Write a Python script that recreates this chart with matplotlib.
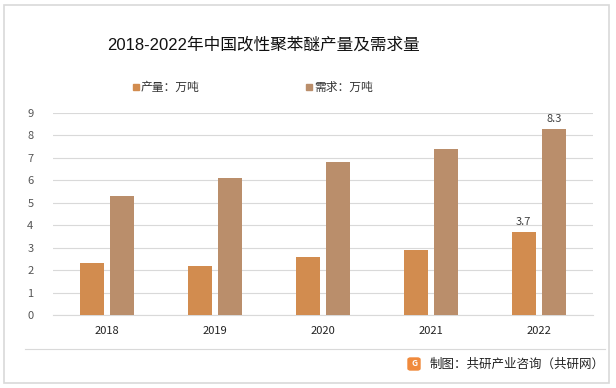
import matplotlib
matplotlib.use("Agg")
import matplotlib.pyplot as plt
from matplotlib.patches import Rectangle, FancyBboxPatch
import numpy as np

plt.rcParams['font.family'] = ['Noto Sans CJK SC', 'DejaVu Sans']

years = ["2018", "2019", "2020", "2021", "2022"]
production = [2.3, 2.2, 2.6, 2.9, 3.7]
demand = [5.3, 6.1, 6.8, 7.4, 8.3]
series_names = ["产量：万吨", "需求：万吨"]
title = "2018-2022年中国改性聚苯醚产量及需求量"
footer = "制图：共研产业咨询（共研网）"

c_prod = "#D28C4F"
c_dem = "#BA8E6B"

W, H = 616, 388
fig = plt.figure(figsize=(W/100, H/100), dpi=100)

def fx(px): return px / W
def fy(py): return 1 - py / H

# outer border
fig.patches.append(Rectangle((fx(4), fy(383)), fx(605), (383-5)/H, transform=fig.transFigure,
                             fill=False, edgecolor="#D9D9D9", linewidth=1.2))

ax = fig.add_axes([fx(53), fy(315), fx(593) - fx(53), (315-113)/H])
x = np.arange(len(years))
bw = 0.222
off = 0.143
ax.bar(x - off, production, bw, color=c_prod, label=series_names[0], zorder=3)
ax.bar(x + off, demand, bw, color=c_dem, label=series_names[1], zorder=3)

ax.set_xlim(-0.5, len(years) - 0.5)
ax.set_ylim(0, 9)
ax.set_yticks(range(0, 10))
ax.yaxis.grid(True, color="#D9D9D9", linewidth=0.8, zorder=0)
ax.set_xticks(x)
ax.set_xticklabels(years, fontsize=8, color="#222222")
ax.tick_params(axis='y', labelsize=8, labelcolor="#555555", length=0, pad=14)
ax.tick_params(axis='x', length=0, pad=8)
for s in ["top", "right", "left"]:
    ax.spines[s].set_visible(False)
ax.spines["bottom"].set_color("#D9D9D9")

ax.text(x[-1] - off, production[-1] + 0.2, f"{production[-1]}", ha="center", va="bottom",
        fontsize=8, color="#404040")
ax.text(x[-1] + off, demand[-1] + 0.2, f"{demand[-1]}", ha="center", va="bottom",
        fontsize=8, color="#404040")

fig.text(fx(263), fy(45), title, ha="center", va="center", fontsize=12,
         color="#111111", family=['Liberation Sans', 'Noto Sans CJK SC'])

# legend
for lx, col, name in [(133, c_prod, series_names[0]), (306, c_dem, series_names[1])]:
    fig.patches.append(Rectangle((fx(lx), fy(90)), 6/W, 6/H, transform=fig.transFigure,
                                 color=col))
    fig.text(fx(lx + 8), fy(87), name, ha="left", va="center", fontsize=8.5, color="#333333")

# footer
fig.add_artist(plt.Line2D([fx(25), fx(605)], [fy(349), fy(349)], transform=fig.transFigure,
                          color="#D9D9D9", linewidth=0.8))
fig.patches.append(FancyBboxPatch((fx(408), fy(370)), 12/W, 12/H, transform=fig.transFigure,
                                  boxstyle="round,pad=0,rounding_size=0.004",
                                  color="#F08A3C"))
fig.text(fx(414), fy(364), "G", ha="center", va="center", fontsize=6, color="white", weight="bold")
fig.text(fx(430), fy(364), footer, ha="left", va="center", fontsize=9, color="#222222")

fig.savefig("out.png", dpi=100)
